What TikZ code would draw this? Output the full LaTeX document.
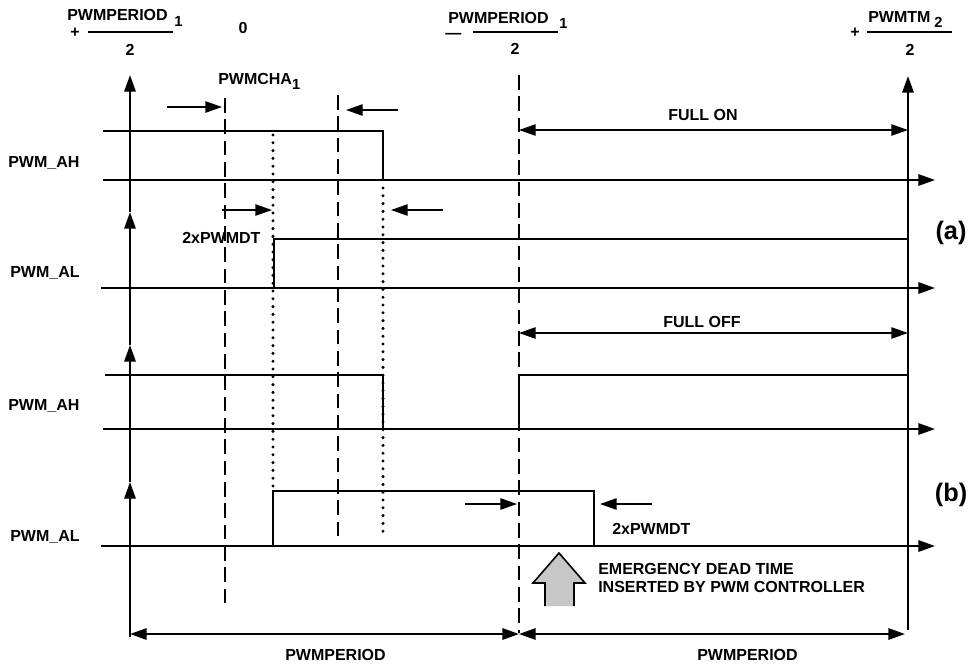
\documentclass[tikz,border=0pt]{standalone}
\usepackage{fontspec}
\setmainfont{Liberation Sans}
\usetikzlibrary{arrows.meta}
\newcommand{\mysub}[3][4pt]{\kern#2\raisebox{-#1}{\fontsize{11}{11}\selectfont #3}}
\begin{document}
\begin{tikzpicture}[x=0.75pt,y=-0.75pt,
  lbl/.style={font=\fontsize{12}{14}\selectfont\bfseries, inner sep=0pt, anchor=base west},
  big/.style={font=\fontsize{19}{21}\selectfont\bfseries, inner sep=0pt},
  axis/.style={line width=1.6pt},
  sig/.style={line width=1.2pt},
  thinl/.style={line width=1.2pt},
  tip/.style={-{Triangle[length=12.5pt,width=8.5pt]}},
  dtip/.style={{Triangle[length=12.5pt,width=8.5pt]}-{Triangle[length=12.5pt,width=8.5pt]}},
  dashv/.style={line width=1.3pt, dash pattern=on 11pt off 5pt},
  dotv/.style={line width=2.5pt, line cap=round, dash pattern=on 0pt off 5.85pt},
]
\useasboundingbox (0,0) rectangle (970,665);

% ---------- header labels ----------
\node[lbl] (n1) at (67,20) {PWMPERIOD\mysub[5pt]{5pt}{1}};
\node[lbl] (p1) at (70,37) {+};
\draw[thinl] (88,32) -- (173,32);
\node[lbl, anchor=base] (d1) at (130,55) {2};
\node[lbl, anchor=base] (zero) at (243,33) {0};
\node[lbl] (cha) at (218,84) {PWMCHA\mysub{0pt}{1}};

\node[lbl] (n2) at (448,23) {PWMPERIOD\mysub{8pt}{1}};
\node[lbl] (m2) at (445,38) {—};
\draw[thinl] (473,32) -- (558,32);
\node[lbl, anchor=base] (d2) at (515,54) {2};

\node[lbl] (p3) at (850,37) {+};
\node[lbl] (n3) at (868,22) {PWMTM\mysub{3pt}{2}};
\draw[thinl] (867,32) -- (952,32);
\node[lbl, anchor=base] (d3) at (910,55) {2};

% ---------- signal names ----------
\node[lbl] (s1) at (8,167) {PWM\_AH};
\node[lbl] (s2) at (10,277) {PWM\_AL};
\node[lbl] (s3) at (8,410) {PWM\_AH};
\node[lbl] (s4) at (10,541) {PWM\_AL};

% ---------- vertical axes ----------
\coordinate (L0) at (130,637);
\coordinate (L1) at (130,482);
\coordinate (L2) at (130,345);
\coordinate (L3) at (130,212);
\coordinate (L4) at (130,75);
\draw[axis,tip] (L0) -- (L1);
\draw[axis,tip] (L1) -- (L2);
\draw[axis,tip] (L2) -- (L3);
\draw[axis,tip] (L3) -- (L4);
\coordinate (R0) at (908,630);
\coordinate (R1) at (908,76);
\draw[axis,tip] (R0) -- (R1);

% ---------- baselines ----------
\draw[axis,tip] (103,180) -- (935,180);
\draw[axis,tip] (101,288) -- (935,288);
\draw[axis,tip] (103,429) -- (935,429);
\draw[axis,tip] (101,546) -- (935,546);

% ---------- dashed and dotted markers ----------
\draw[dashv] (225,98) -- (225,607);
\draw[dashv] (338,95) -- (338,541);
\draw[dashv] (519,75) -- (519,633);
\draw[dotv] (273,135) -- (273,488);
\draw[dotv] (383,188) -- (383,533);

% ---------- waveforms ----------
\draw[sig] (103,131) -- (383,131) -- (383,180) -- (908,180);
\draw[sig] (101,288) -- (274,288) -- (274,239) -- (908,239);
\draw[sig] (105,375) -- (383,375) -- (383,429) -- (519,429) -- (519,375) -- (908,375);
\draw[sig] (101,546) -- (273,546) -- (273,491) -- (594,491) -- (594,546) -- (908,546);

% ---------- dimension arrows ----------
\draw[thinl,dtip] (519,130) -- (908,130);
\node[lbl] (fon) at (668,120) {FULL ON};
\draw[thinl,dtip] (519,333) -- (908,333);
\node[lbl] (foff) at (663,327) {FULL OFF};

\draw[thinl,tip] (167,107) -- (222,107);
\draw[thinl,tip] (398,110) -- (346,110);
\draw[thinl,tip] (222,210) -- (272,210);
\draw[thinl,tip] (443,210) -- (391,210);
\node[lbl] (dt1) at (182,243) {2xPWMDT};
\draw[thinl,tip] (465,504) -- (517,504);
\draw[thinl,tip] (652,504) -- (600,504);
\node[lbl] (dt2) at (612,534) {2xPWMDT};

\coordinate (B0) at (130,634);
\coordinate (B1) at (519,634);
\coordinate (B2) at (905,634);
\draw[axis,dtip] (B0) -- (B1);
\draw[axis,dtip] (B1) -- (B2);
\node[lbl] (per1) at (285,660) {PWMPERIOD};
\node[lbl] (per2) at (697,660) {PWMPERIOD};

% ---------- emergency arrow ----------
\fill[black!22] (545,606) -- (545,583) -- (533,583) -- (559,553) -- (585,583) -- (574,583) -- (574,606) -- cycle;
\draw[line width=1.2pt, line join=miter] (545,606) -- (545,583) -- (533,583) -- (559,553) -- (585,583) -- (574,583) -- (574,606);
\node[lbl, align=left, anchor=base west] (em) at (598,592) {EMERGENCY DEAD TIME\\[-1pt]INSERTED BY PWM CONTROLLER};

% ---------- case labels ----------
\node[big] (ca) at (951,233) {(a)};
\node[big] (cb) at (951,495) {(b)};
\end{tikzpicture}
\end{document}
